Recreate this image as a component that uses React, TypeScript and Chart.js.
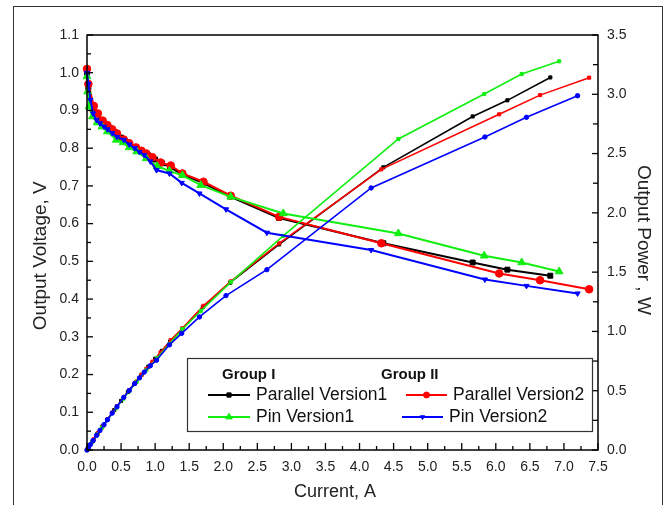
import React, { useEffect, useRef } from 'react';
import { Chart, registerables } from 'chart.js';
import { drawPoint } from 'chart.js/helpers';

Chart.register(...registerables);

// ---- Data (Current in A, Output Voltage in V, Output Power in W) ----
const pv1Current = [0, 0.02, 0.08, 0.15, 0.22, 0.30, 0.40, 0.50, 0.60, 0.70, 0.80, 0.90, 1.00, 1.10, 1.22, 1.40, 1.70, 2.10, 2.82, 4.35, 5.66, 6.17, 6.80];
const pv1Voltage = [1.0, 0.96, 0.91, 0.89, 0.872, 0.858, 0.843, 0.828, 0.815, 0.803, 0.792, 0.781, 0.770, 0.760, 0.750, 0.730, 0.708, 0.672, 0.615, 0.548, 0.497, 0.478, 0.462];
const pv1Power = [0, 0.019, 0.073, 0.134, 0.192, 0.257, 0.337, 0.414, 0.489, 0.562, 0.634, 0.703, 0.770, 0.836, 0.915, 1.022, 1.204, 1.411, 1.734, 2.384, 2.813, 2.949, 3.142];

const pv2Current = [0, 0.02, 0.10, 0.16, 0.23, 0.30, 0.37, 0.44, 0.54, 0.62, 0.72, 0.80, 0.87, 0.96, 1.08, 1.23, 1.40, 1.71, 2.11, 2.82, 4.32, 6.05, 6.65, 7.37];
const pv2Voltage = [1.01, 0.97, 0.912, 0.892, 0.873, 0.861, 0.85, 0.839, 0.823, 0.813, 0.802, 0.793, 0.786, 0.776, 0.762, 0.754, 0.733, 0.711, 0.674, 0.618, 0.548, 0.468, 0.450, 0.426];
const pv2Power = [0, 0.019, 0.091, 0.143, 0.201, 0.258, 0.315, 0.369, 0.444, 0.504, 0.577, 0.634, 0.684, 0.745, 0.823, 0.927, 1.026, 1.216, 1.422, 1.743, 2.367, 2.831, 2.993, 3.140];

const pin1Current = [0, 0.01, 0.03, 0.08, 0.15, 0.22, 0.30, 0.43, 0.53, 0.62, 0.73, 0.87, 1.03, 1.21, 1.40, 1.67, 2.11, 2.88, 4.57, 5.83, 6.38, 6.93];
const pin1Voltage = [0.99, 0.95, 0.91, 0.884, 0.868, 0.857, 0.844, 0.822, 0.815, 0.802, 0.791, 0.773, 0.752, 0.74, 0.728, 0.702, 0.671, 0.627, 0.574, 0.515, 0.497, 0.473];
const pin1Power = [0, 0.0095, 0.027, 0.071, 0.130, 0.189, 0.253, 0.353, 0.432, 0.497, 0.577, 0.673, 0.775, 0.895, 1.019, 1.172, 1.416, 1.806, 2.623, 3.002, 3.171, 3.278];

const pin2Current = [0, 0.02, 0.05, 0.09, 0.14, 0.19, 0.25, 0.30, 0.37, 0.44, 0.54, 0.62, 0.70, 0.77, 0.84, 0.93, 1.02, 1.21, 1.39, 1.65, 2.04, 2.64, 4.17, 5.84, 6.45, 7.20];
const pin2Voltage = [1.0, 0.97, 0.928, 0.892, 0.875, 0.866, 0.857, 0.85, 0.84, 0.83, 0.822, 0.81, 0.80, 0.79, 0.782, 0.765, 0.742, 0.733, 0.708, 0.68, 0.638, 0.576, 0.53, 0.452, 0.435, 0.415];
const pin2Power = [0, 0.019, 0.046, 0.080, 0.123, 0.165, 0.214, 0.255, 0.311, 0.365, 0.444, 0.502, 0.560, 0.608, 0.657, 0.711, 0.757, 0.887, 0.984, 1.122, 1.302, 1.521, 2.210, 2.640, 2.806, 2.988];

const seriesLabels = ['Parallel Version1', 'Parallel Version2', 'Pin Version1', 'Pin Version2'];
const groupLabels = ['Group I', 'Group II'];

const xTitle = 'Current, A';
const yTitle = 'Output Voltage, V';
const y2Title = 'Output Power , W';

const xRange = [0, 7.5, 0.5];
const yRange = [0, 1.1, 0.1];
const y2Range = [0, 3.5, 0.5];

const C_BLACK = '#000000';
const C_RED = '#ff0000';
const C_GREEN = '#11ee11';
const C_BLUE = '#0000ff';

const zip = (xs: number[], ys: number[]) => xs.map((x, i) => ({ x, y: ys[i] }));

function mk(label: string, xs: number[], ys: number[], color: string, style: string, radius: number, rotation: number, order: number, axis: string, width: number) {
  return {
    label,
    data: zip(xs, ys),
    borderColor: color,
    backgroundColor: color,
    pointStyle: style,
    pointRadius: radius,
    pointRotation: rotation,
    pointBorderWidth: 1,
    borderWidth: width,
    tension: 0,
    yAxisID: axis,
    order,
    clip: false,
  } as any;
}

const FONT = "'Liberation Sans', Arial, sans-serif";

const framePlugin = {
  id: 'frame',
  beforeDraw(chart: any) {
    const ctx = chart.ctx;
    ctx.save();
    ctx.fillStyle = '#ffffff';
    ctx.fillRect(0, 0, chart.width, chart.height);
    ctx.strokeStyle = '#333333';
    ctx.lineWidth = 1;
    ctx.strokeRect(13.5, 6.5, 649, 520);
    ctx.restore();
  },
};

const axesPlugin = {
  id: 'inwardTicks',
  afterDatasetsDraw(chart: any) {
    const ctx = chart.ctx;
    const a = chart.chartArea;
    ctx.save();
    ctx.strokeStyle = '#000';
    ctx.lineWidth = 1.5;
    ctx.strokeRect(a.left, a.top, a.right - a.left, a.bottom - a.top);
    ctx.lineWidth = 1.3;
    const xs = chart.scales.x;
    for (let k = 0; k <= 30; k++) {
      const v = k * 0.25;
      const px = xs.getPixelForValue(v);
      const len = k % 2 === 0 ? 7 : 4;
      ctx.beginPath();
      ctx.moveTo(px, a.bottom);
      ctx.lineTo(px, a.bottom - len);
      ctx.stroke();
    }
    const ys = chart.scales.y;
    for (let k = 0; k <= 22; k++) {
      const v = k * 0.05;
      const py = ys.getPixelForValue(v);
      const len = k % 2 === 0 ? 6 : 4;
      ctx.beginPath();
      ctx.moveTo(a.left, py);
      ctx.lineTo(a.left + len, py);
      ctx.stroke();
    }
    const y2 = chart.scales.y2;
    for (let k = 0; k <= 14; k++) {
      const v = k * 0.25;
      const py = y2.getPixelForValue(v);
      const len = k % 2 === 0 ? 6 : 5;
      ctx.beginPath();
      ctx.moveTo(a.right, py);
      ctx.lineTo(a.right - len, py);
      ctx.stroke();
    }
    ctx.restore();
  },
};

const legendPlugin = {
  id: 'groupLegend',
  afterDraw(chart: any) {
    const ctx = chart.ctx;
    const a = chart.chartArea;
    const bx = a.left + 100;
    const by = a.top + 323;
    ctx.save();
    ctx.fillStyle = '#ffffff';
    ctx.fillRect(bx, by, 405, 73);
    ctx.strokeStyle = '#333';
    ctx.lineWidth = 1.2;
    ctx.strokeRect(bx + 0.5, by + 0.5, 405, 73);
    ctx.fillStyle = '#111';
    ctx.textBaseline = 'middle';
    ctx.textAlign = 'left';
    ctx.font = `bold 15px ${FONT}`;
    ctx.fillText(groupLabels[0], bx + 35, by + 17);
    ctx.fillText(groupLabels[1], bx + 194, by + 17);
    const items = [
      { ds: 0, x0: 21, x1: 63, tx: 69, y: 37, r: 3 },
      { ds: 1, x0: 219, x1: 260, tx: 266, y: 37, r: 3 },
      { ds: 2, x0: 21, x1: 63, tx: 69, y: 59, r: 3.8 },
      { ds: 3, x0: 215, x1: 256, tx: 262, y: 59, r: 2.5 },
    ];
    ctx.font = `17.5px ${FONT}`;
    for (const it of items) {
      const ds = chart.data.datasets[it.ds];
      const y = by + it.y;
      ctx.strokeStyle = ds.borderColor;
      ctx.lineWidth = 2;
      ctx.beginPath();
      ctx.moveTo(bx + it.x0, y);
      ctx.lineTo(bx + it.x1, y);
      ctx.stroke();
      ctx.fillStyle = ds.backgroundColor;
      ctx.lineWidth = 1;
      drawPoint(ctx, {
        pointStyle: ds.pointStyle,
        rotation: ds.pointRotation,
        radius: it.r,
        borderWidth: 1,
      } as any, bx + (it.x0 + it.x1) / 2, y);
      ctx.fillStyle = '#111';
      ctx.fillText(ds.label, bx + it.tx, y);
    }
    ctx.restore();
  },
};

export default function App() {
  const ref = useRef<HTMLCanvasElement | null>(null);
  useEffect(() => {
    if (!ref.current) return;
    const datasets = [
      mk(seriesLabels[0], pv1Current, pv1Voltage, C_BLACK, 'rect', 3.5, 0, 3, 'y', 2),
      mk(seriesLabels[1], pv2Current, pv2Voltage, C_RED, 'circle', 3.8, 0, 2, 'y', 2),
      mk(seriesLabels[2], pin1Current, pin1Voltage, C_GREEN, 'triangle', 4.5, 0, 1, 'y', 2),
      mk(seriesLabels[3], pin2Current, pin2Voltage, C_BLUE, 'triangle', 3, 180, 0, 'y', 2),
      mk(seriesLabels[0] + ' P', pv1Current, pv1Power, C_BLACK, 'rect', 2.2, 0, 3, 'y2', 1.6),
      mk(seriesLabels[1] + ' P', pv2Current, pv2Power, C_RED, 'rect', 2.2, 0, 2, 'y2', 1.6),
      mk(seriesLabels[2] + ' P', pin1Current, pin1Power, C_GREEN, 'rect', 2.2, 0, 1, 'y2', 1.6),
      mk(seriesLabels[3] + ' P', pin2Current, pin2Power, C_BLUE, 'circle', 2.2, 0, 0, 'y2', 1.6),
    ];
    const tickFont = { family: FONT, size: 14 };
    const titleFont = { family: FONT, size: 19 };
    const chart = new Chart(ref.current, {
      type: 'line',
      data: { datasets },
      options: {
        animation: false,
        responsive: false,
        layout: { padding: { top: 35, left: 0, right: 0, bottom: 0 }, autoPadding: false },
        plugins: { legend: { display: false }, tooltip: { enabled: false } },
        scales: {
          x: {
            type: 'linear',
            min: xRange[0],
            max: xRange[1],
            grid: { display: false, drawTicks: false },
            border: { display: false },
            ticks: { stepSize: xRange[2], font: tickFont, color: '#222', padding: 9, callback: (v: any) => Number(v).toFixed(1), maxRotation: 0, autoSkip: false },
            title: { display: true, text: xTitle + '   ', font: { family: FONT, size: 18 }, color: '#222', padding: { top: 0, bottom: 2 } },
            afterFit: (s: any) => { s.height = 55; },
          },
          y: {
            type: 'linear',
            position: 'left',
            min: yRange[0],
            max: yRange[1],
            grid: { display: false, drawTicks: false },
            border: { display: false },
            ticks: { stepSize: yRange[2], font: tickFont, color: '#222', padding: 8, callback: (v: any) => Number(v).toFixed(1), autoSkip: false },
            title: { display: true, text: yTitle + '     ', font: titleFont, color: '#222', padding: { top: 29, bottom: 0 } },
            afterFit: (s: any) => { s.width = 87; },
          },
          y2: {
            type: 'linear',
            position: 'right',
            min: y2Range[0],
            max: y2Range[1],
            grid: { display: false, drawTicks: false },
            border: { display: false },
            ticks: { stepSize: y2Range[2], font: tickFont, color: '#222', padding: 9, callback: (v: any) => Number(v).toFixed(1), autoSkip: false },
            title: { display: true, text: y2Title + ' ', font: titleFont, color: '#222', padding: { top: 16, bottom: 0 } },
            afterFit: (s: any) => { s.width = 73; },
          },
        },
      } as any,
      plugins: [framePlugin, axesPlugin, legendPlugin],
    });
    return () => chart.destroy();
  }, []);
  return (
    <div style={{ position: 'absolute', left: 0, top: 0, width: 671, height: 505 }}>
      <canvas ref={ref} width={671} height={505} style={{ display: 'block' }} />
    </div>
  );
}
